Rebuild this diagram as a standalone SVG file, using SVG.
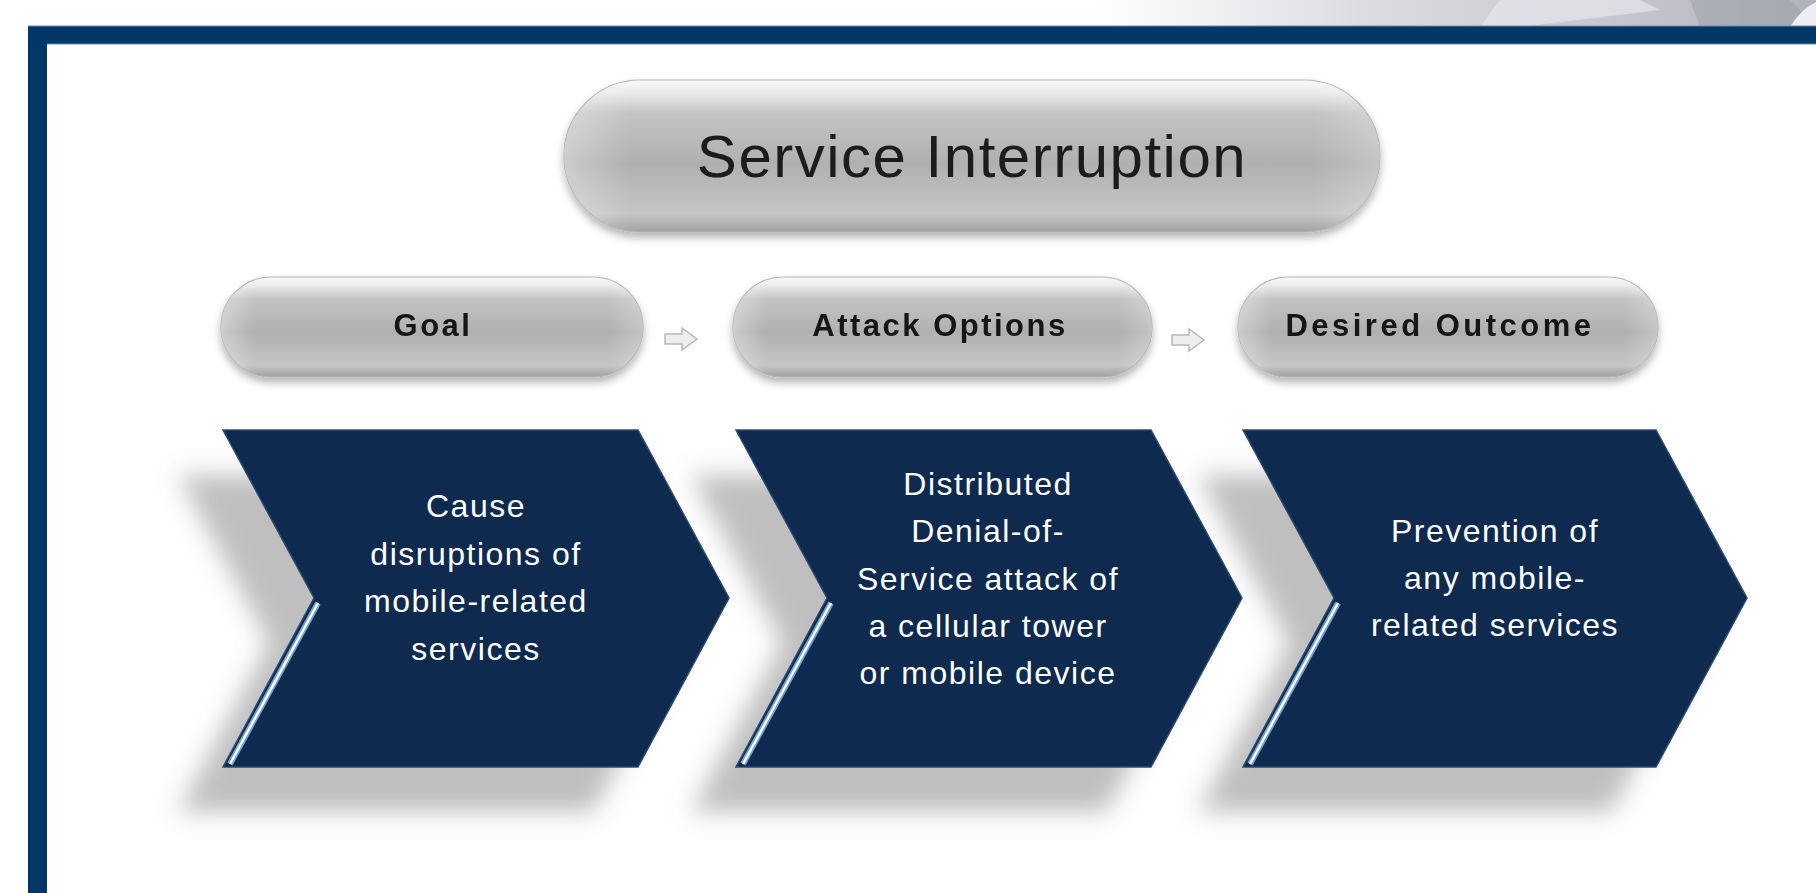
<svg xmlns="http://www.w3.org/2000/svg" width="1816" height="893" viewBox="0 0 1816 893">
<defs>
<linearGradient id="topbg" x1="0" y1="0" x2="1" y2="0">
<stop offset="0" stop-color="#ffffff"/>
<stop offset="0.6" stop-color="#ffffff"/>
<stop offset="0.75" stop-color="#dcdde2"/>
<stop offset="0.9" stop-color="#c4c5cc"/>
<stop offset="1" stop-color="#b0b1ba"/>
</linearGradient>
<linearGradient id="pillg" x1="0" y1="0" x2="0" y2="1">
<stop offset="0" stop-color="#f8f8f8"/>
<stop offset="0.08" stop-color="#ececec"/>
<stop offset="0.22" stop-color="#c4c4c4"/>
<stop offset="0.55" stop-color="#b0b0b0"/>
<stop offset="0.88" stop-color="#c6c6c6"/>
<stop offset="1" stop-color="#a2a2a2"/>
</linearGradient>
<linearGradient id="pillside" x1="0" y1="0" x2="1" y2="0">
<stop offset="0" stop-color="#ffffff" stop-opacity="0.35"/>
<stop offset="0.08" stop-color="#ffffff" stop-opacity="0"/>
<stop offset="0.92" stop-color="#ffffff" stop-opacity="0"/>
<stop offset="1" stop-color="#ffffff" stop-opacity="0.25"/>
</linearGradient>
<filter id="pshadow" x="-10%" y="-20%" width="120%" height="150%">
<feGaussianBlur in="SourceAlpha" stdDeviation="4"/>
<feOffset dx="0" dy="5" result="b"/>
<feComponentTransfer><feFuncA type="linear" slope="0.3"/></feComponentTransfer>
<feMerge><feMergeNode/><feMergeNode in="SourceGraphic"/></feMerge>
</filter>
<filter id="cblur" x="-20%" y="-20%" width="140%" height="140%">
<feGaussianBlur stdDeviation="12"/>
</filter>
<style>
.pill{fill:url(#pillg);stroke:#b4b4b4;stroke-width:1.2}
.pillhl{fill:url(#pillside)}
.chev{fill:#0e2a4f;stroke:#2c4a70;stroke-width:1.5}
.shad{fill:#8a8a8a;opacity:0.55}
.hl1{stroke:#6f9fd0;stroke-width:6;fill:none}
.hl2{stroke:#ffffff;stroke-width:2.5;fill:none}
.ct{font-family:"Liberation Sans",Arial,sans-serif;font-size:32px;fill:#ffffff;letter-spacing:1.5px;text-anchor:middle}
.pt{font-family:"Liberation Sans",Arial,sans-serif;font-size:31px;font-weight:bold;fill:#151515;letter-spacing:2.5px;text-anchor:middle}
.arr{fill:#eeeeee;stroke:#b8b8b8;stroke-width:1.5}
</style>
</defs>
<rect x="0" y="0" width="1816" height="893" fill="#ffffff"/>
<rect x="0" y="0" width="1816" height="27" fill="url(#topbg)"/>
<polygon points="1500,0 1640,0 1660,10 1520,27 1480,27" fill="#e6e7ec" opacity="0.7"/>
<polygon points="1690,0 1790,0 1816,27 1700,27" fill="#9c9eaa" opacity="0.5"/>
<path d="M1790,27 Q1800,10 1816,2 L1816,27 Z" fill="#eeeef2"/>
<g id="frame">
<path d="M28,26 H1816 V44 H47 V893 H28 Z" fill="#023768"/>
<line x1="28" y1="26" x2="1816" y2="26" stroke="#6a8cb4" stroke-width="1"/>
<line x1="47" y1="44" x2="1816" y2="44" stroke="#6a8cb4" stroke-width="1"/>
</g>
<g id="shadows" filter="url(#cblur)">
<polygon class="shad" points="178,475 593,475 684,643 593,812 178,812 269,643"/>
<polygon class="shad" points="691,475 1106,475 1197,643 1106,812 691,812 782,643"/>
<polygon class="shad" points="1198,475 1611,475 1702,643 1611,812 1198,812 1289,643"/>
</g>
<g id="title" filter="url(#pshadow)">
<rect class="pill" x="564" y="80" width="816" height="152" rx="76"/>
<rect class="pillhl" x="564" y="80" width="816" height="152" rx="76"/>
<text x="972" y="177" font-family="Liberation Sans, Arial, sans-serif" font-size="60" letter-spacing="1.5" fill="#1c1c1c" text-anchor="middle">Service Interruption</text>
</g>
<g id="pill-goal" filter="url(#pshadow)">
<rect class="pill" x="221" y="277" width="422" height="100" rx="50"/>
<rect class="pillhl" x="221" y="277" width="422" height="100" rx="50"/>
<text class="pt" x="433" y="336">Goal</text>
</g>
<g id="pill-attack" filter="url(#pshadow)">
<rect class="pill" x="733" y="277" width="419" height="100" rx="50"/>
<rect class="pillhl" x="733" y="277" width="419" height="100" rx="50"/>
<text class="pt" x="940" y="336">Attack Options</text>
</g>
<g id="pill-outcome" filter="url(#pshadow)">
<rect class="pill" x="1238" y="277" width="420" height="100" rx="50"/>
<rect class="pillhl" x="1238" y="277" width="420" height="100" rx="50"/>
<text class="pt" x="1440" y="336" style="letter-spacing:3.5px">Desired Outcome</text>
</g>
<g id="connectors">
<path class="arr" d="M665,334 H682 V328 L697,339 L682,350 V344 H665 Z"/>
<path class="arr" d="M1172,335 H1189 V329 L1204,340 L1189,351 V345 H1172 Z"/>
</g>
<g id="chevron-goal">
<polygon class="chev" points="223,430 638,430 729,598 638,767 223,767 314,598"/>
<path class="hl1" d="M318,603 L230,764"/>
<path class="hl2" d="M318,603 L230,764"/>
<text class="ct" x="476" y="517">Cause</text>
<text class="ct" x="476" y="565">disruptions of</text>
<text class="ct" x="476" y="612">mobile-related</text>
<text class="ct" x="476" y="660">services</text>
</g>
<g id="chevron-attack">
<polygon class="chev" points="736,430 1151,430 1242,598 1151,767 736,767 827,598"/>
<path class="hl1" d="M831,603 L743,764"/>
<path class="hl2" d="M831,603 L743,764"/>
<text class="ct" x="988" y="495">Distributed</text>
<text class="ct" x="988" y="542">Denial-of-</text>
<text class="ct" x="988" y="590">Service attack of</text>
<text class="ct" x="988" y="637">a cellular tower</text>
<text class="ct" x="988" y="684">or mobile device</text>
</g>
<g id="chevron-outcome">
<polygon class="chev" points="1243,430 1656,430 1747,598 1656,767 1243,767 1334,598"/>
<path class="hl1" d="M1338,603 L1250,764"/>
<path class="hl2" d="M1338,603 L1250,764"/>
<text class="ct" x="1495" y="542">Prevention of</text>
<text class="ct" x="1495" y="589">any mobile-</text>
<text class="ct" x="1495" y="636">related services</text>
</g>
</svg>
